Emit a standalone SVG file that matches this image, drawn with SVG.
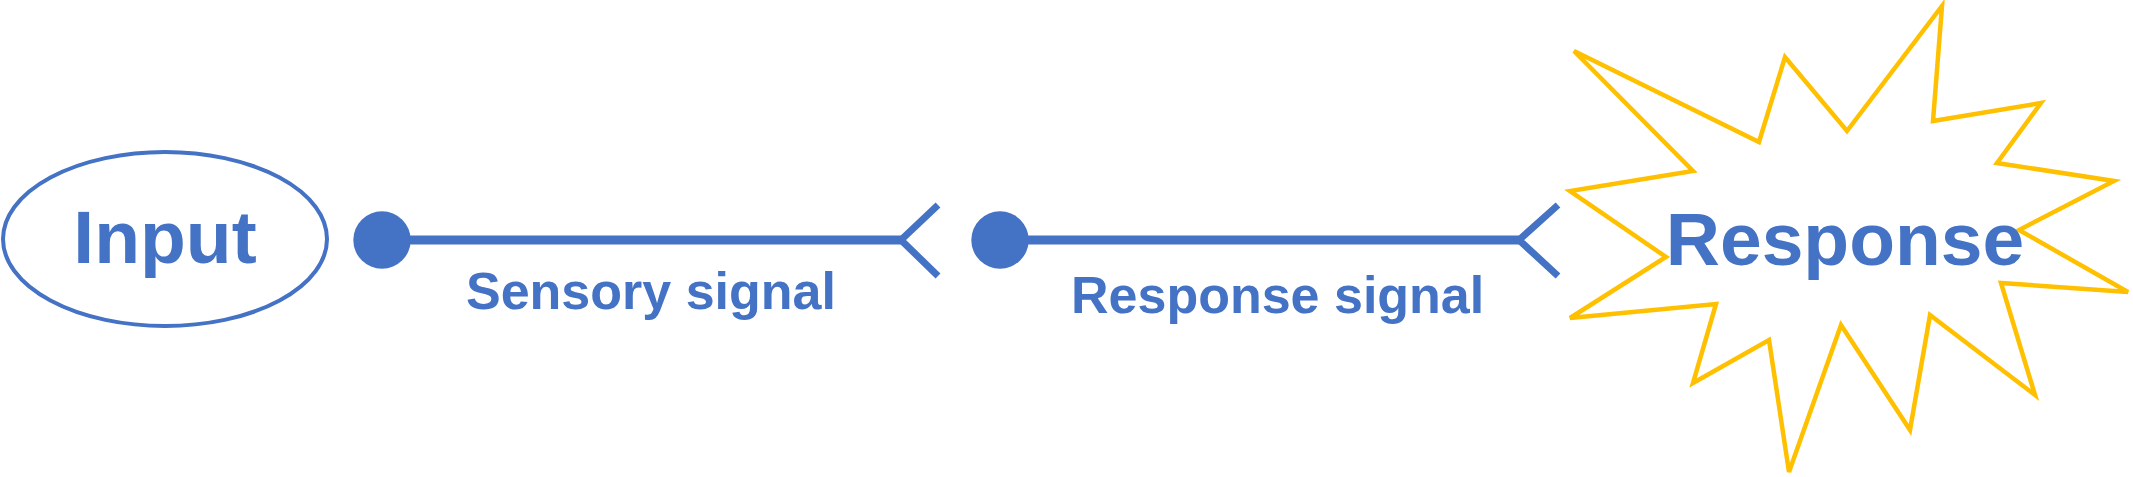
<svg xmlns="http://www.w3.org/2000/svg" width="2133" height="477" viewBox="0 0 2133 477">
<style>
.node-text{font-family:"Liberation Sans",Arial,sans-serif;font-weight:bold;font-size:75px;fill:#4472C4;text-anchor:middle}
.label{font-family:"Liberation Sans",Arial,sans-serif;font-weight:bold;font-size:52px;fill:#4472C4}
.conn{stroke:#4472C4;stroke-width:9;fill:none}
.arm{stroke:#4472C4;stroke-width:7;fill:none}
.dot{fill:#4472C4}
</style>
<rect width="2133" height="477" fill="#FFFFFF"/>
<g id="input">
<ellipse cx="165" cy="239" rx="162" ry="87" fill="#FFFFFF" stroke="#4472C4" stroke-width="4"/>
<text class="node-text" x="165" y="263">Input</text>
</g>
<g id="response">
<polygon points="1574,51 1759,142 1785,57 1847,131 1942,6 1933,121 2041,103 1997,163 2114,181 2019,230 2128,292 2001,283 2035,395 1930,315 1910,430 1841,325 1789,472 1769,340 1693,383 1716,304 1570,318 1666,257 1570,191 1693,171" fill="#FFFFFF" stroke="#FFC000" stroke-width="4.5" stroke-linejoin="miter"/>
<text class="node-text" x="1845" y="265">Response</text>
</g>
<g id="connectors">
<g id="sensory-signal">
<circle class="dot" cx="382" cy="240" r="28.7"/>
<line class="conn" x1="382" y1="240" x2="901" y2="240"/>
<polyline class="arm" points="938,205 901,240 938,276"/>
<text class="label" x="466" y="309">Sensory signal</text>
</g>
<g id="response-signal">
<circle class="dot" cx="1000" cy="240" r="28.7"/>
<line class="conn" x1="1000" y1="240" x2="1519" y2="240"/>
<polyline class="arm" points="1558,205 1519,240 1558,276"/>
<text class="label" x="1071" y="313">Response signal</text>
</g>
</g>
</svg>
